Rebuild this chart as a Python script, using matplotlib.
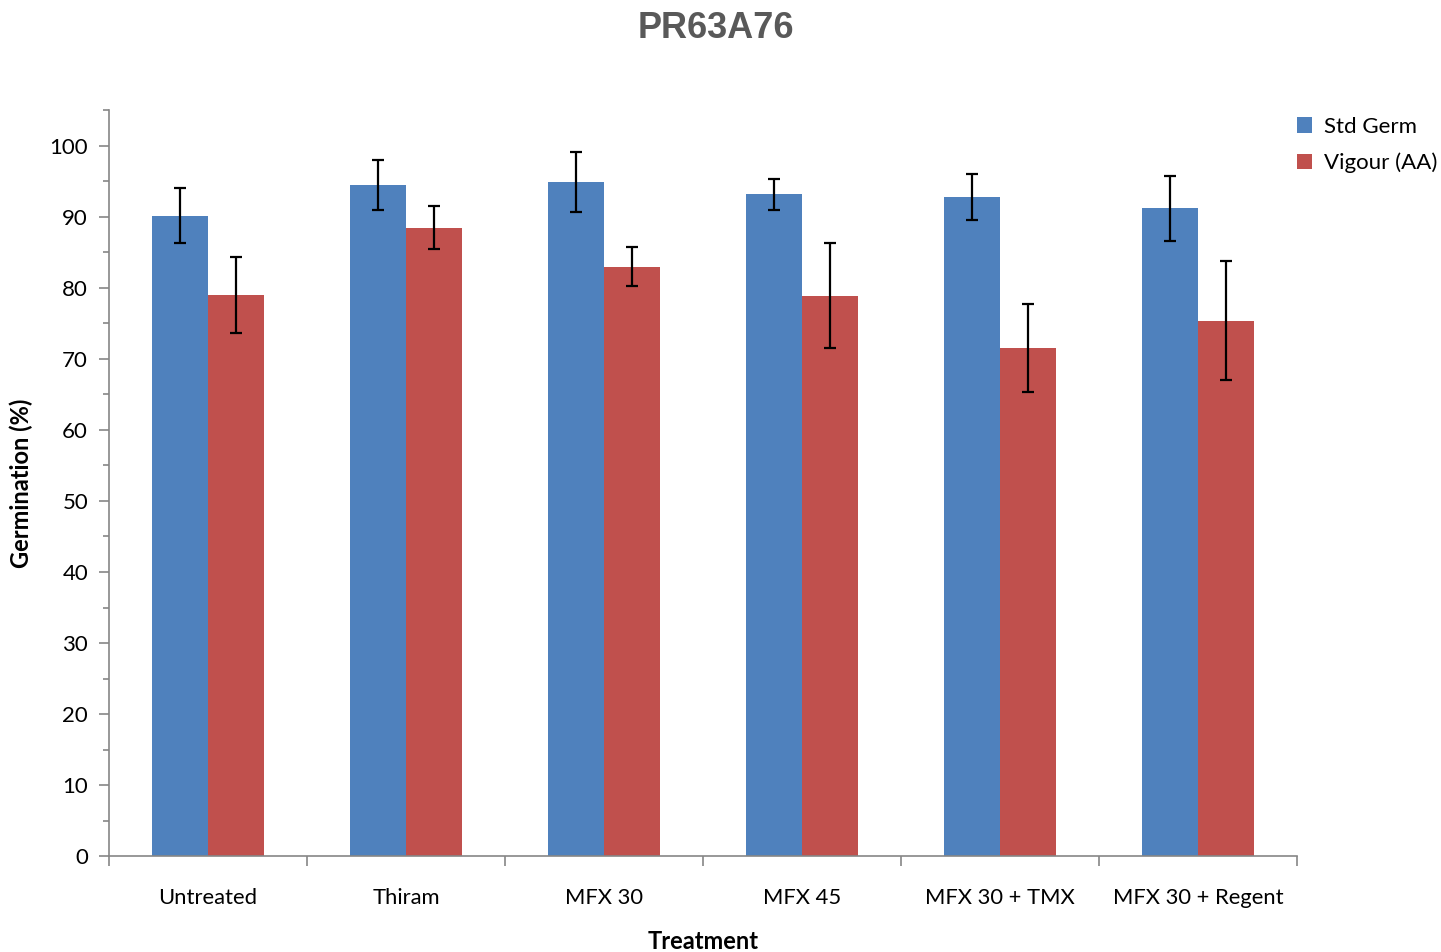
import numpy as np
import matplotlib
matplotlib.use("Agg")
import matplotlib.pyplot as plt
from matplotlib.ticker import MultipleLocator

treatments = ["Untreated", "Thiram", "MFX 30", "MFX 45", "MFX 30 + TMX", "MFX 30 + Regent"]
std_germ = [90.2, 94.5, 94.9, 93.2, 92.8, 91.2]
std_germ_err = [3.9, 3.5, 4.2, 2.2, 3.2, 4.6]
vigour = [79.0, 88.5, 83.0, 78.9, 71.5, 75.4]
vigour_err = [5.3, 3.0, 2.7, 7.4, 6.2, 8.4]

plt.rcParams['font.family'] = ['Lato', 'DejaVu Sans']

fig = plt.figure(figsize=(14.41, 9.52), dpi=100)
ax = fig.add_axes([0.0756, 0.1008, 0.8245, 0.7832])

x = np.arange(len(treatments))
w = 0.285
err_kw = dict(ecolor="black", elinewidth=1.6, capsize=4.5, capthick=1.6)
ax.bar(x - w / 2, std_germ, w, yerr=std_germ_err, color="#4f81bd",
       label="Std Germ", error_kw=err_kw, zorder=2)
ax.bar(x + w / 2, vigour, w, yerr=vigour_err, color="#c0504d",
       label="Vigour (AA)", error_kw=err_kw, zorder=2)

ax.set_xlim(-0.5, len(treatments) - 0.5)
ax.set_ylim(0, 105)
ax.set_yticks(np.arange(0, 101, 10))
ax.yaxis.set_minor_locator(MultipleLocator(5))
ax.set_xticks(x)
ax.set_xticklabels(treatments, fontsize=15.8)
ax.set_xticks(np.arange(-0.5, len(treatments)), minor=True)
ax.tick_params(axis="x", which="major", length=0, pad=23)
ax.tick_params(axis="x", which="minor", length=7, width=1.2, color="#868686")
ax.tick_params(axis="y", which="major", length=7, width=1.2, color="#868686", labelsize=16, pad=8)
ax.tick_params(axis="y", which="minor", length=4, width=1.2, color="#868686")

for s in ["top", "right"]:
    ax.spines[s].set_visible(False)
for s in ["left", "bottom"]:
    ax.spines[s].set_color("#868686")
    ax.spines[s].set_linewidth(1.2)

ax.set_ylabel("Germination (%)", fontsize=17, fontweight="bold", labelpad=12)
ax.set_xlabel("Treatment", fontsize=17, fontweight="bold", labelpad=16)

fig.text(0.497, 0.97, "PR63A76", fontsize=26, fontweight="bold", color="#595959",
         ha="center", va="center", family="Liberation Sans")

ax.legend(loc="upper left", bbox_to_anchor=(0.983, 1.018), frameon=False,
          fontsize=16, handlelength=0.7, handleheight=0.7, handletextpad=0.5,
          labelspacing=0.7)

fig.savefig("out.png", dpi=100)
